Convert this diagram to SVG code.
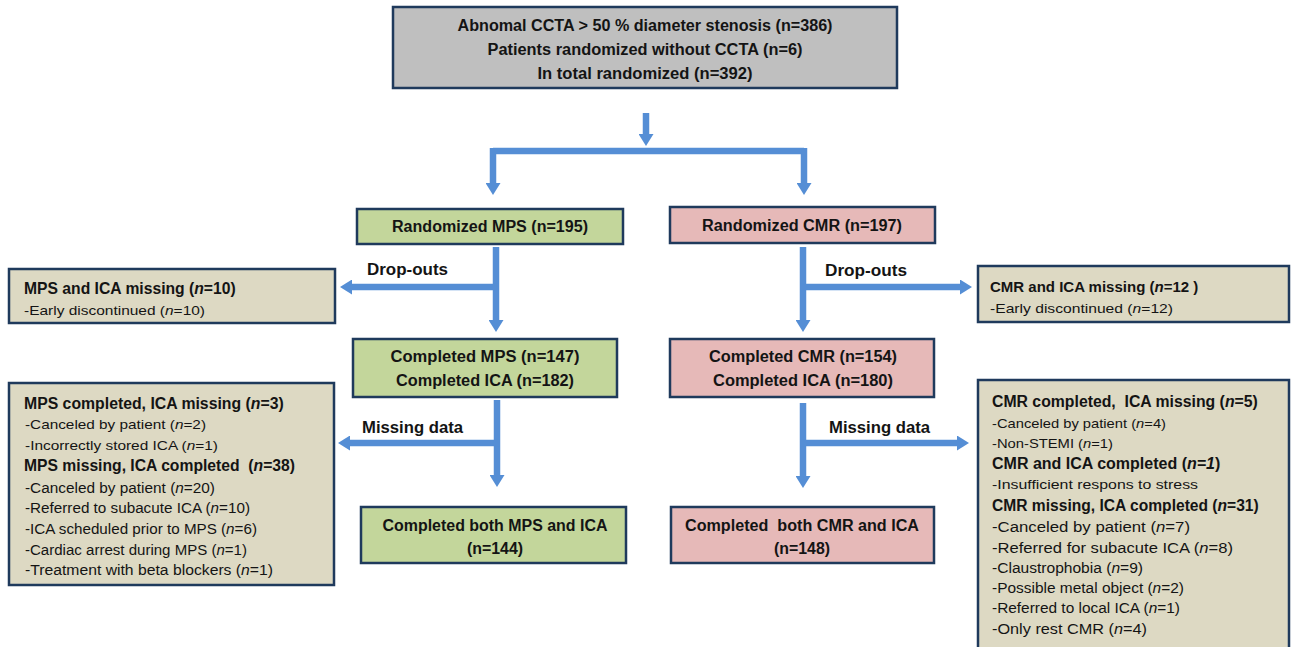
<svg xmlns="http://www.w3.org/2000/svg" width="1291" height="647" viewBox="0 0 1291 647">
<style>
.box{stroke:#1F3A5C;stroke-width:2.5}
.gray{fill:#BFBFBF}.green{fill:#C3D69B}.pink{fill:#E6B9B8}.tan{fill:#DDD9C3}
text{font-family:"Liberation Sans",Arial,sans-serif;fill:#141414}
.b{font-weight:bold;font-size:16px}
.h{font-weight:bold}
.r{font-size:13px}
.r2{font-size:14px}
.c{text-anchor:middle}
.lbl{font-weight:bold;font-size:16px}
.i{font-style:italic}
.con{stroke:#558ED5;stroke-width:6.5;fill:none}
</style>
<defs>
<marker id="ah" markerUnits="userSpaceOnUse" markerWidth="12" markerHeight="15" viewBox="0 0 12 15" refX="3" refY="7.5" orient="auto">
<path d="M0,0 L12,7.5 L0,15 z" fill="#558ED5"/>
</marker>
</defs>

<g id="connectors">
<line class="con" x1="646" y1="113" x2="646" y2="137" marker-end="url(#ah)"/>
<path class="con" d="M493,151 H804"/>
<line class="con" x1="493" y1="148" x2="493" y2="186" marker-end="url(#ah)"/>
<line class="con" x1="804" y1="148" x2="804" y2="186" marker-end="url(#ah)"/>
<line class="con" x1="496" y1="247" x2="496" y2="323" marker-end="url(#ah)"/>
<line class="con" x1="499" y1="287" x2="349" y2="287" marker-end="url(#ah)"/>
<line class="con" x1="803" y1="247" x2="803" y2="323" marker-end="url(#ah)"/>
<line class="con" x1="800" y1="287" x2="963" y2="287" marker-end="url(#ah)"/>
<line class="con" x1="497" y1="400" x2="497" y2="478" marker-end="url(#ah)"/>
<line class="con" x1="500" y1="443" x2="347" y2="443" marker-end="url(#ah)"/>
<line class="con" x1="803" y1="403" x2="803" y2="479" marker-end="url(#ah)"/>
<line class="con" x1="800" y1="443" x2="960" y2="443" marker-end="url(#ah)"/>
<text class="lbl" x="367" y="275" textLength="81" lengthAdjust="spacingAndGlyphs">Drop-outs</text>
<text class="lbl" x="825" y="276" textLength="82" lengthAdjust="spacingAndGlyphs">Drop-outs</text>
<text class="lbl" x="362" y="433" textLength="101" lengthAdjust="spacingAndGlyphs">Missing data</text>
<text class="lbl" x="829" y="433" textLength="101" lengthAdjust="spacingAndGlyphs">Missing data</text>
</g>

<g id="top">
<rect class="box gray" x="393" y="7" width="504" height="81"/>
<text class="b c" x="645" y="31" textLength="375" lengthAdjust="spacingAndGlyphs">Abnomal CCTA &gt; 50 % diameter stenosis (n=386)</text>
<text class="b c" x="645" y="55" textLength="315" lengthAdjust="spacingAndGlyphs">Patients randomized without CCTA (n=6)</text>
<text class="b c" x="645" y="79" textLength="215" lengthAdjust="spacingAndGlyphs">In total randomized (n=392)</text>
</g>

<g id="rand-mps">
<rect class="box green" x="357" y="209" width="266" height="35"/>
<text class="b c" x="490" y="232" textLength="196" lengthAdjust="spacingAndGlyphs">Randomized MPS (n=195)</text>
</g>

<g id="rand-cmr">
<rect class="box pink" x="670" y="207" width="265" height="36"/>
<text class="b c" x="802" y="231" textLength="200" lengthAdjust="spacingAndGlyphs">Randomized CMR (n=197)</text>
</g>

<g id="comp-mps">
<rect class="box green" x="353" y="339" width="264" height="58"/>
<text class="b c" x="485" y="362" textLength="189" lengthAdjust="spacingAndGlyphs">Completed MPS (n=147)</text>
<text class="b c" x="485" y="386" textLength="178" lengthAdjust="spacingAndGlyphs">Completed ICA (n=182)</text>
</g>

<g id="comp-cmr">
<rect class="box pink" x="670" y="339" width="264" height="58"/>
<text class="b c" x="803" y="362" textLength="188" lengthAdjust="spacingAndGlyphs">Completed CMR (n=154)</text>
<text class="b c" x="803" y="386" textLength="180" lengthAdjust="spacingAndGlyphs">Completed ICA (n=180)</text>
</g>

<g id="both-mps">
<rect class="box green" x="361" y="507" width="265" height="56"/>
<text class="b c" x="495" y="531" textLength="225" lengthAdjust="spacingAndGlyphs">Completed both MPS and ICA</text>
<text class="b c" x="495" y="554" textLength="56" lengthAdjust="spacingAndGlyphs">(n=144)</text>
</g>

<g id="both-cmr">
<rect class="box pink" x="671" y="507" width="263" height="56"/>
<text class="b c" x="802" y="531" textLength="234" lengthAdjust="spacingAndGlyphs">Completed &#160;both CMR and ICA</text>
<text class="b c" x="802" y="554" textLength="56" lengthAdjust="spacingAndGlyphs">(n=148)</text>
</g>

<g id="mps-dropout">
<rect class="box tan" x="9" y="269" width="326" height="54"/>
<text class="h" x="24" y="294" font-size="15.7">MPS and ICA missing (<tspan class="i">n</tspan>=10)</text>
<text class="r" x="24" y="315" textLength="181" lengthAdjust="spacingAndGlyphs">-Early discontinued (<tspan class="i">n</tspan>=10)</text>
</g>

<g id="cmr-dropout">
<rect class="box tan" x="978" y="266" width="311" height="56"/>
<text class="h" x="990" y="292" font-size="15">CMR and ICA missing (<tspan class="i">n</tspan>=12 )</text>
<text class="r" x="990" y="313" textLength="183" lengthAdjust="spacingAndGlyphs">-Early discontinued (<tspan class="i">n</tspan>=12)</text>
</g>

<g id="mps-missing">
<rect class="box tan" x="9" y="383" width="325" height="202"/>
<text class="h" x="24" y="409" font-size="15.8">MPS completed, ICA missing (<tspan class="i">n</tspan>=3)</text>
<text class="r" x="25" y="429" textLength="181" lengthAdjust="spacingAndGlyphs">-Canceled by patient (<tspan class="i">n</tspan>=2)</text>
<text class="r" x="25" y="450" textLength="193" lengthAdjust="spacingAndGlyphs">-Incorrectly stored ICA (<tspan class="i">n</tspan>=1)</text>
<text class="h" x="24" y="471" font-size="15.7">MPS missing, ICA completed &#160;(<tspan class="i">n</tspan>=38)</text>
<text class="r2" x="25" y="493" textLength="190" lengthAdjust="spacingAndGlyphs">-Canceled by patient (<tspan class="i">n</tspan>=20)</text>
<text class="r2" x="25" y="513" textLength="225" lengthAdjust="spacingAndGlyphs">-Referred to subacute ICA (<tspan class="i">n</tspan>=10)</text>
<text class="r2" x="25" y="534" textLength="232" lengthAdjust="spacingAndGlyphs">-ICA scheduled prior to MPS (<tspan class="i">n</tspan>=6)</text>
<text class="r2" x="25" y="555" textLength="222" lengthAdjust="spacingAndGlyphs">-Cardiac arrest during MPS (<tspan class="i">n</tspan>=1)</text>
<text class="r2" x="25" y="575" textLength="248" lengthAdjust="spacingAndGlyphs">-Treatment with beta blockers (<tspan class="i">n</tspan>=1)</text>
</g>

<g id="cmr-missing">
<rect class="box tan" x="978" y="380" width="311" height="275"/>
<text class="h" x="992" y="407" font-size="15.8">CMR completed, &#160;ICA missing (<tspan class="i">n</tspan>=5)</text>
<text class="r" x="992" y="428" textLength="174" lengthAdjust="spacingAndGlyphs">-Canceled by patient (<tspan class="i">n</tspan>=4)</text>
<text class="r" x="992" y="448" textLength="121" lengthAdjust="spacingAndGlyphs">-Non-STEMI (<tspan class="i">n</tspan>=1)</text>
<text class="h" x="992" y="469" font-size="16">CMR and ICA completed (<tspan class="i">n=1</tspan>)</text>
<text class="r" x="992" y="489" textLength="206" lengthAdjust="spacingAndGlyphs">-Insufficient respons to stress</text>
<text class="h" x="992" y="511" font-size="15.6">CMR missing, ICA completed (<tspan class="i">n</tspan>=31)</text>
<text class="r2" x="992" y="532" textLength="198" lengthAdjust="spacingAndGlyphs">-Canceled by patient (<tspan class="i">n</tspan>=7)</text>
<text class="r2" x="992" y="553" textLength="241" lengthAdjust="spacingAndGlyphs">-Referred for subacute ICA (<tspan class="i">n</tspan>=8)</text>
<text class="r2" x="992" y="573" textLength="151" lengthAdjust="spacingAndGlyphs">-Claustrophobia (<tspan class="i">n</tspan>=9)</text>
<text class="r2" x="992" y="593" textLength="192" lengthAdjust="spacingAndGlyphs">-Possible metal object (<tspan class="i">n</tspan>=2)</text>
<text class="r2" x="992" y="613" textLength="188" lengthAdjust="spacingAndGlyphs">-Referred to local ICA (<tspan class="i">n</tspan>=1)</text>
<text class="r2" x="992" y="634" textLength="155" lengthAdjust="spacingAndGlyphs">-Only rest CMR (<tspan class="i">n</tspan>=4)</text>
</g>
</svg>
